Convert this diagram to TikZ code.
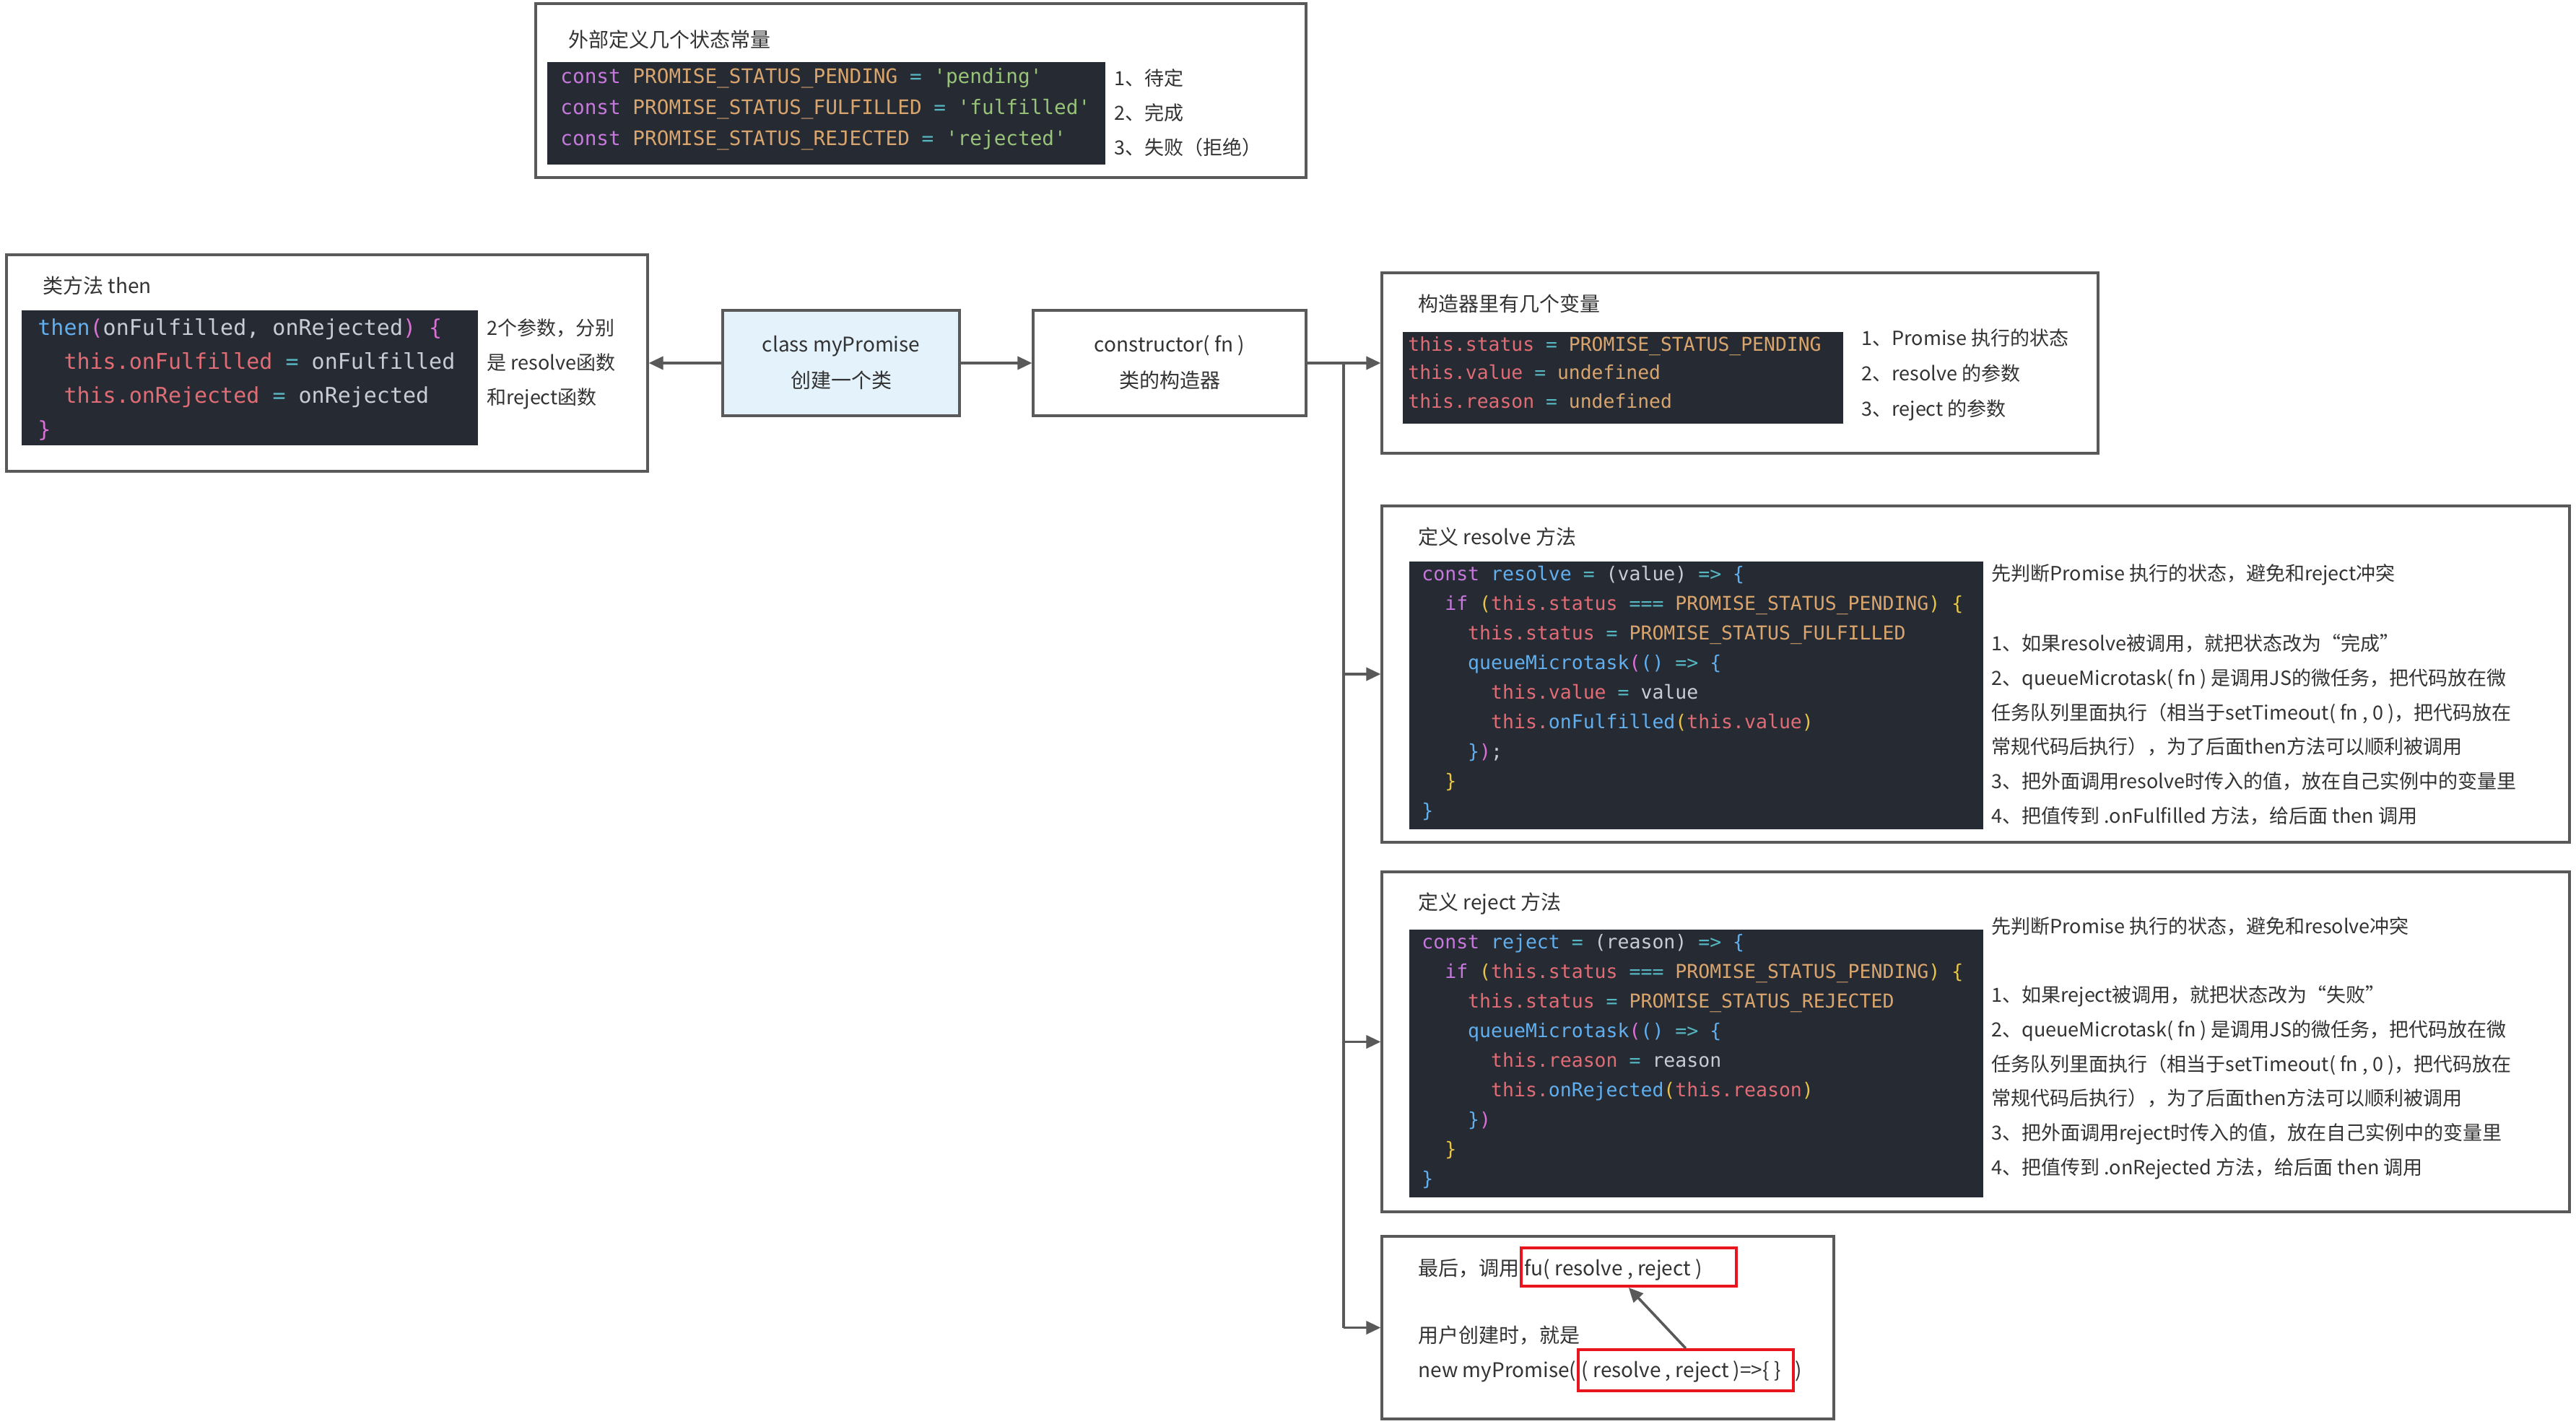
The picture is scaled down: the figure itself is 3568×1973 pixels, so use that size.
\documentclass[tikz,border=0pt]{standalone}
\usepackage{fontspec}
\setmainfont{Noto Sans CJK SC}
\setmonofont{DejaVu Sans Mono}
\usetikzlibrary{arrows.meta}
\definecolor{bordergray}{HTML}{595959}
\definecolor{txtgray}{HTML}{333333}
\definecolor{codebg}{HTML}{262A32}
\definecolor{lightblue}{HTML}{E3F2FB}
\definecolor{redline}{HTML}{E8141E}
\definecolor{ckw}{HTML}{C678DD}
\definecolor{ccn}{HTML}{D9A56E}
\definecolor{cop}{HTML}{56B6C2}
\definecolor{cst}{HTML}{98C379}
\definecolor{cth}{HTML}{E06C75}
\definecolor{cfn}{HTML}{61AFEF}
\definecolor{cpl}{HTML}{C8CCD4}
\definecolor{cye}{HTML}{E8C547}
\definecolor{cpk}{HTML}{DA70D6}
\newcommand\cKw[1]{\textcolor{ckw}{#1}}
\newcommand\cCn[1]{\textcolor{ccn}{#1}}
\newcommand\cOp[1]{\textcolor{cop}{#1}}
\newcommand\cSt[1]{\textcolor{cst}{#1}}
\newcommand\cTh[1]{\textcolor{cth}{#1}}
\newcommand\cFn[1]{\textcolor{cfn}{#1}}
\newcommand\cPl[1]{\textcolor{cpl}{#1}}
\newcommand\cYe[1]{\textcolor{cye}{#1}}
\newcommand\cPk[1]{\textcolor{cpk}{#1}}
\newcommand\redtext[1]{\makebox[144pt][l]{#1}}
\tikzset{
  box/.style={draw=bordergray, line width=1.6pt, fill=white, inner sep=0pt},
  codebox/.style={fill=codebg, draw=none, inner sep=0pt},
  arr/.style={draw=bordergray, line width=1.8pt, -{Triangle[length=10pt,width=9pt]}},
  trunkline/.style={draw=bordergray, line width=1.8pt},
  ttl/.style={anchor=west, inner sep=0pt, text=txtgray, font=\fontsize{14}{16}\selectfont},
  note/.style={anchor=west, inner sep=0pt, align=left, text=txtgray},
  code/.style={anchor=west, inner sep=0pt, align=left},
  redbox/.style={draw=redline, line width=2pt, inner xsep=2.5pt, inner ysep=7pt,
    text=txtgray, font=\fontsize{14}{16}\selectfont}
}
\begin{document}
\begin{tikzpicture}[x=0.5pt,y=-0.5pt]
\fill[white] (0,0) rectangle (3568,1973);
\useasboundingbox (0,0) rectangle (3568,1973);

% ---------- top box: constants ----------
\node[box, minimum width=533.5pt, minimum height=120.5pt] (topbox) at (1275.5,125.5) {};
\node[ttl] (toptitle) at (787,55) {外部定义几个状态常量};
\node[codebox, minimum width=386.5pt, minimum height=71pt] (topcode) at (1144.5,157) {};
\node[code, font=\fontsize{13.85}{21.5}\selectfont\ttfamily] (topcodetxt) at (776,150) {%
\strut\cKw{const} \cCn{PROMISE\_STATUS\_PENDING} \cOp{=} \cSt{'pending'}\\
\strut\cKw{const} \cCn{PROMISE\_STATUS\_FULFILLED} \cOp{=} \cSt{'fulfilled'}\\
\strut\cKw{const} \cCn{PROMISE\_STATUS\_REJECTED} \cOp{=} \cSt{'rejected'}};
\node[note, font=\fontsize{13.5}{24}\selectfont] (topnote) at (1543,157) {%
\strut 1、待定\\\strut 2、完成\\\strut 3、失败（拒绝）};

% ---------- then box ----------
\node[box, minimum width=444pt, minimum height=150pt] (thenbox) at (453,503) {};
\node[ttl] (thentitle) at (59,396) {类方法 then};
\node[codebox, minimum width=316pt, minimum height=93.5pt] (thencode) at (346,523.5) {};
\node[code, font=\fontsize{15}{23.5}\selectfont\ttfamily] (thencodetxt) at (52,525.5) {%
\strut\cFn{then}\cPk{(}\cPl{onFulfilled, onRejected}\cPk{)} \cPk{\{}\\
\strut\ \ \cTh{this.onFulfilled} \cOp{=} \cPl{onFulfilled}\\
\strut\ \ \cTh{this.onRejected} \cOp{=} \cPl{onRejected}\\
\strut\cPk{\}}};
\node[note, font=\fontsize{13.5}{24}\selectfont] (thennote) at (674,503) {%
\strut 2个参数，分别\\\strut 是 resolve函数\\\strut 和reject函数};

% ---------- class and constructor ----------
\node[box, fill=lightblue, minimum width=164pt, minimum height=73pt, align=center,
  text=txtgray, font=\fontsize{14}{25}\selectfont] (classbox) at (1165,503)
  {\strut class myPromise\\\strut 创建一个类};
\node[box, minimum width=189pt, minimum height=73pt, align=center,
  text=txtgray, font=\fontsize{14}{25}\selectfont] (ctorbox) at (1620,503)
  {\strut constructor( fn )\\\strut 类的构造器};

% ---------- constructor variables ----------
\node[box, minimum width=496pt, minimum height=125pt] (varsbox) at (2410,503) {};
\node[ttl] (varstitle) at (1964,421) {构造器里有几个变量};
\node[codebox, minimum width=305pt, minimum height=63.5pt] (varscode) at (2248,523.5) {};
\node[code, font=\fontsize{13.2}{19.75}\selectfont\ttfamily] (varscodetxt) at (1950,518) {%
\strut\cTh{this.status} \cOp{=} \cCn{PROMISE\_STATUS\_PENDING}\\
\strut\cTh{this.value} \cOp{=} \cCn{undefined}\\
\strut\cTh{this.reason} \cOp{=} \cCn{undefined}};
\node[note, font=\fontsize{13.5}{24.5}\selectfont] (varsnote) at (2578,518) {%
\strut 1、Promise 执行的状态\\\strut 2、resolve 的参数\\\strut 3、reject 的参数};

% ---------- resolve ----------
\node[box, minimum width=822.5pt, minimum height=233pt] (resbox) at (2736.5,934) {};
\node[ttl] (restitle) at (1964,744) {定义 resolve 方法};
\node[codebox, minimum width=397.5pt, minimum height=185.5pt] (rescode) at (2349.5,963.5) {};
\node[code, font=\fontsize{13.25}{20.5}\selectfont\ttfamily] (rescodetxt) at (1969,960) {%
\strut\cKw{const} \cFn{resolve} \cOp{=} \cPl{(value)} \cOp{=>} \cFn{\{}\\
\strut\ \ \cKw{if} \cYe{(}\cTh{this.status} \cOp{===} \cCn{PROMISE\_STATUS\_PENDING}\cYe{)} \cYe{\{}\\
\strut\ \ \ \ \cTh{this.status} \cOp{=} \cCn{PROMISE\_STATUS\_FULFILLED}\\
\strut\ \ \ \ \cFn{queueMicrotask}\cPk{(}\cFn{()} \cOp{=>} \cFn{\{}\\
\strut\ \ \ \ \ \ \cTh{this.value} \cOp{=} \cPl{value}\\
\strut\ \ \ \ \ \ \cTh{this.}\cFn{onFulfilled}\cYe{(}\cTh{this.value}\cYe{)}\\
\strut\ \ \ \ \cFn{\}}\cPk{)}\cPl{;}\\
\strut\ \ \cYe{\}}\\
\strut\cFn{\}}};
\node[note, font=\fontsize{13.5}{24}\selectfont] (resnotea) at (2758,796) {先判断Promise 执行的状态，避免和reject冲突};
\node[note, font=\fontsize{13.5}{23.9}\selectfont] (resnoteb) at (2758,1011.5) {%
\strut 1、如果resolve被调用，就把状态改为“完成”\\
\strut 2、queueMicrotask( fn ) 是调用JS的微任务，把代码放在微\\
\strut 任务队列里面执行（相当于setTimeout( fn , 0 )，把代码放在\\
\strut 常规代码后执行），为了后面then方法可以顺利被调用\\
\strut 3、把外面调用resolve时传入的值，放在自己实例中的变量里\\
\strut 4、把值传到 .onFulfilled 方法，给后面 then 调用};

% ---------- reject ----------
\node[box, minimum width=822.5pt, minimum height=235.5pt] (rejbox) at (2736.5,1443.5) {};
\node[ttl] (rejtitle) at (1964,1252) {定义 reject 方法};
\node[codebox, minimum width=397.5pt, minimum height=185.5pt] (rejcode) at (2349.5,1473.5) {};
\node[code, font=\fontsize{13.25}{20.5}\selectfont\ttfamily] (rejcodetxt) at (1969,1470) {%
\strut\cKw{const} \cFn{reject} \cOp{=} \cPl{(reason)} \cOp{=>} \cFn{\{}\\
\strut\ \ \cKw{if} \cYe{(}\cTh{this.status} \cOp{===} \cCn{PROMISE\_STATUS\_PENDING}\cYe{)} \cYe{\{}\\
\strut\ \ \ \ \cTh{this.status} \cOp{=} \cCn{PROMISE\_STATUS\_REJECTED}\\
\strut\ \ \ \ \cFn{queueMicrotask}\cPk{(}\cFn{()} \cOp{=>} \cFn{\{}\\
\strut\ \ \ \ \ \ \cTh{this.reason} \cOp{=} \cPl{reason}\\
\strut\ \ \ \ \ \ \cTh{this.}\cFn{onRejected}\cYe{(}\cTh{this.reason}\cYe{)}\\
\strut\ \ \ \ \cFn{\}}\cPk{)}\\
\strut\ \ \cYe{\}}\\
\strut\cFn{\}}};
\node[note, font=\fontsize{13.5}{24}\selectfont] (rejnotea) at (2758,1283) {先判断Promise 执行的状态，避免和resolve冲突};
\node[note, font=\fontsize{13.5}{23.9}\selectfont] (rejnoteb) at (2758,1498.5) {%
\strut 1、如果reject被调用，就把状态改为“失败”\\
\strut 2、queueMicrotask( fn ) 是调用JS的微任务，把代码放在微\\
\strut 任务队列里面执行（相当于setTimeout( fn , 0 )，把代码放在\\
\strut 常规代码后执行），为了后面then方法可以顺利被调用\\
\strut 3、把外面调用reject时传入的值，放在自己实例中的变量里\\
\strut 4、把值传到 .onRejected 方法，给后面 then 调用};

% ---------- final box ----------
\node[box, minimum width=313pt, minimum height=126.5pt] (finbox) at (2227,1839.5) {};
\node[ttl, anchor=base west] (fina) at (1964,1767) {最后，调用};
\node[redbox, anchor=base west, text height=12pt, text depth=0.5pt] (fu) at (fina.base east) {\redtext{fu( resolve , reject )}};
\node[ttl, anchor=base west] (finb) at (1964,1860) {用户创建时，就是};
\node[ttl, anchor=base west] (finc) at (1964,1908) {new myPromise(};
\node[redbox, anchor=base west, text height=12pt, text depth=2.5pt] (cb) at (finc.base east) {\redtext{( resolve , reject )=>\{ \}}};
\node[ttl, anchor=base west] (find) at (cb.base east) {)};
\draw[arr] (cb.north) -- (fu.south);

% ---------- connectors ----------
\draw[arr] (classbox.west) -- (thenbox.east);
\draw[arr] (classbox.east) -- (ctorbox.west);
\draw[arr] (ctorbox.east) -- (varsbox.west);
\coordinate (junc) at (1861,503);
\draw[trunkline] (junc) -- (junc |- finbox.west);
\draw[arr] (junc |- resbox.west) -- (resbox.west);
\draw[arr] (junc |- rejbox.west) -- (rejbox.west);
\draw[arr] (junc |- finbox.west) -- (finbox.west);
\end{tikzpicture}
\end{document}
